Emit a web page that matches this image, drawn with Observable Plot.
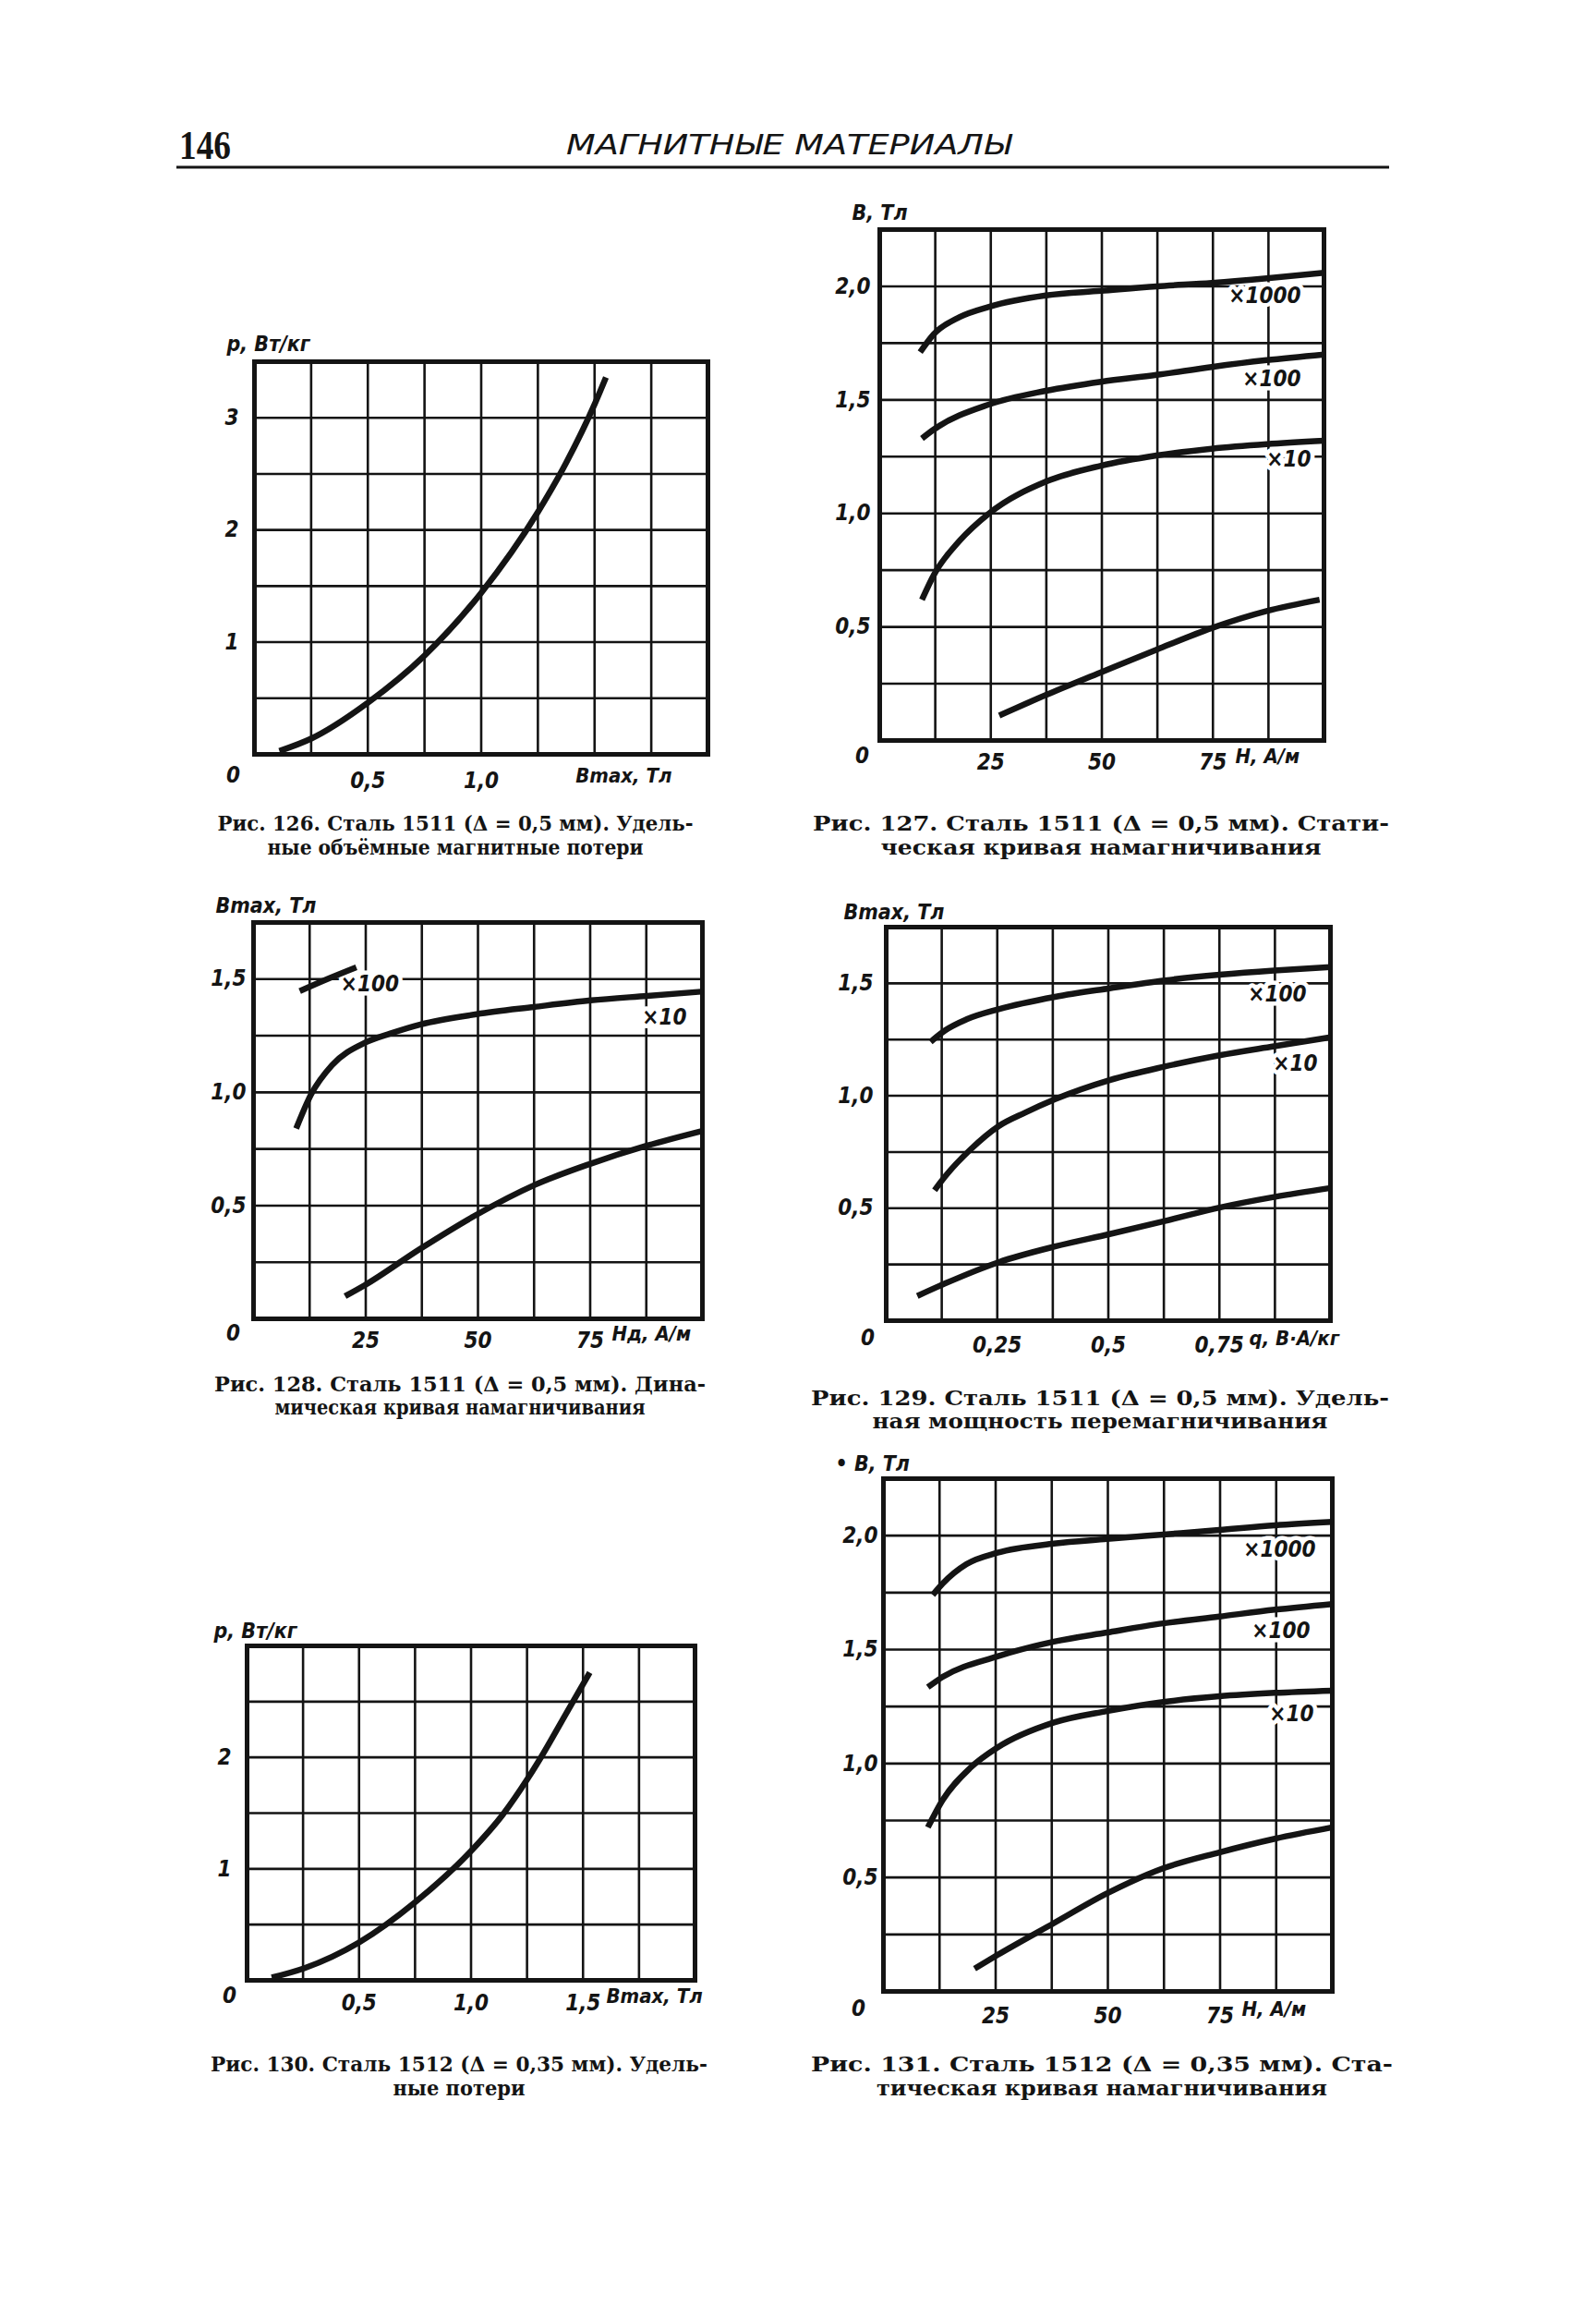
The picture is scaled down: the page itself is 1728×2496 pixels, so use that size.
<!DOCTYPE html>
<html><head><meta charset="utf-8">
<script src="https://cdn.jsdelivr.net/npm/d3@7"></script>
<script src="https://cdn.jsdelivr.net/npm/@observablehq/plot@0.6"></script>
<style>
html,body{margin:0;padding:0;background:#fff;}
#page{position:relative;width:1728px;height:2496px;background:#fff;overflow:hidden;}
#page svg.plotsvg{position:absolute;}
#overlay{position:absolute;left:0;top:0;}
</style></head>
<body><div id="page"><svg id="overlay" width="1728" height="2496"></svg></div>
<script>
// ---------- Рис. 126: p(Bmax), сталь 1511 ----------
const B126 = [0.11, 0.25, 0.5, 0.75, 1.0, 1.25, 1.375, 1.5, 1.55];
const p126 = [0.03, 0.14, 0.46, 0.88, 1.44, 2.16, 2.6, 3.12, 3.36];
const xTicks126 = [0.5, 1.0], xTickLabels126 = ["0,5", "1,0"];
const yTicks126 = [1, 2, 3], yTickLabels126 = ["1", "2", "3"];
const xGrid126 = [0.25, 0.5, 0.75, 1.0, 1.25, 1.5, 1.75];
const yGrid126 = [0.5, 1, 1.5, 2, 2.5, 3];

// ---------- Рис. 127: B(H) static, сталь 1511 ----------
const H127_1000 = [9.1, 12.2, 18, 24.6, 37.4, 49.8, 62.3, 74.7, 87.1, 100];
const B127_1000 = [1.71, 1.79, 1.865, 1.91, 1.96, 1.98, 2.0, 2.015, 2.035, 2.06];
const H127_100 = [9.5, 12.2, 24.6, 37.4, 49.8, 62.3, 74.7, 87.1, 100];
const B127_100 = [1.33, 1.37, 1.48, 1.54, 1.58, 1.61, 1.645, 1.675, 1.70];
const H127_10 = [9.5, 12.2, 18, 24.6, 37.4, 49.8, 62.3, 74.7, 87.1, 100];
const B127_10 = [0.62, 0.73, 0.88, 1.0, 1.14, 1.21, 1.255, 1.285, 1.305, 1.32];
const H127_1 = [26.9, 37.4, 49.8, 62.3, 74.7, 87.1, 99];
const B127_1 = [0.11, 0.20, 0.30, 0.40, 0.495, 0.57, 0.62];
const xTicks127 = [25, 50, 75], xTickLabels127 = ["25", "50", "75"];
const yTicks127 = [0.5, 1.0, 1.5, 2.0], yTickLabels127 = ["0,5", "1,0", "1,5", "2,0"];
const xGrid127 = [12.5, 25, 37.5, 50, 62.5, 75, 87.5];
const yGrid127 = [0.25, 0.5, 0.75, 1.0, 1.25, 1.5, 1.75, 2.0];

// ---------- Рис. 128: Bmax(Hд) dynamic, сталь 1511 ----------
const H128_10 = [9.5, 12.8, 17.5, 24.9, 30.5, 37.2, 49.7, 62.5, 75.1, 87.7, 100];
const B128_10 = [0.84, 0.99, 1.12, 1.22, 1.26, 1.30, 1.345, 1.377, 1.406, 1.426, 1.445];
const H128_100 = [10.3, 16.8, 22.9];
const B128_100 = [1.447, 1.503, 1.552];
const H128_1 = [20.4, 24.9, 37.2, 49.7, 62.5, 75.1, 87.7, 100];
const B128_1 = [0.10, 0.15, 0.31, 0.46, 0.59, 0.685, 0.765, 0.83];
const xTicks128 = [25, 50, 75], xTickLabels128 = ["25", "50", "75"];
const yTicks128 = [0.5, 1.0, 1.5], yTickLabels128 = ["0,5", "1,0", "1,5"];
const xGrid128 = [12.5, 25, 37.5, 50, 62.5, 75, 87.5];
const yGrid128 = [0.25, 0.5, 0.75, 1.0, 1.25, 1.5];

// ---------- Рис. 129: Bmax(q), сталь 1511 ----------
const q129_100 = [0.10, 0.132, 0.181, 0.253, 0.38, 0.503, 0.627, 0.75, 0.873, 1.0];
const B129_100 = [1.24, 1.29, 1.34, 1.385, 1.44, 1.478, 1.513, 1.538, 1.557, 1.572];
const q129_10 = [0.109, 0.132, 0.189, 0.253, 0.3125, 0.38, 0.503, 0.627, 0.75, 0.873, 1.0];
const B129_10 = [0.58, 0.64, 0.76, 0.865, 0.925, 0.985, 1.07, 1.13, 1.18, 1.22, 1.26];
const q129_1 = [0.07, 0.132, 0.253, 0.38, 0.503, 0.627, 0.75, 0.873, 1.0];
const B129_1 = [0.11, 0.165, 0.26, 0.33, 0.385, 0.443, 0.503, 0.55, 0.59];
const xTicks129 = [0.25, 0.5, 0.75], xTickLabels129 = ["0,25", "0,5", "0,75"];
const yTicks129 = [0.5, 1.0, 1.5], yTickLabels129 = ["0,5", "1,0", "1,5"];
const xGrid129 = [0.125, 0.25, 0.375, 0.5, 0.625, 0.75, 0.875];
const yGrid129 = [0.25, 0.5, 0.75, 1.0, 1.25, 1.5];

// ---------- Рис. 130: p(Bmax), сталь 1512 ----------
const B130 = [0.11, 0.257, 0.5, 0.75, 1.0, 1.143, 1.25, 1.30, 1.435, 1.53];
const p130 = [0.025, 0.11, 0.34, 0.70, 1.16, 1.49, 1.80, 1.96, 2.43, 2.76];
const xTicks130 = [0.5, 1.0, 1.5], xTickLabels130 = ["0,5", "1,0", "1,5"];
const yTicks130 = [1, 2], yTickLabels130 = ["1", "2"];
const xGrid130 = [0.25, 0.5, 0.75, 1.0, 1.25, 1.5, 1.75];
const yGrid130 = [0.5, 1, 1.5, 2, 2.5];

// ---------- Рис. 131: B(H) static, сталь 1512 ----------
const H131_1000 = [11, 13.2, 18.5, 25.4, 38, 49.8, 62.3, 74.8, 87.2, 100];
const B131_1000 = [1.74, 1.79, 1.875, 1.925, 1.965, 1.985, 2.005, 2.025, 2.045, 2.06];
const H131_100 = [9.9, 13.2, 25.4, 38, 49.8, 62.3, 74.8, 87.2, 100];
const B131_100 = [1.335, 1.38, 1.47, 1.535, 1.575, 1.615, 1.645, 1.675, 1.70];
const H131_10 = [9.9, 13.2, 19.3, 25.4, 38, 49.8, 62.3, 74.8, 87.2, 100];
const B131_10 = [0.72, 0.84, 0.98, 1.07, 1.18, 1.23, 1.27, 1.295, 1.31, 1.32];
const H131_1 = [20.3, 25.4, 38, 49.8, 62.3, 74.8, 87.2, 100];
const B131_1 = [0.10, 0.16, 0.30, 0.43, 0.54, 0.61, 0.67, 0.72];
const xTicks131 = [25, 50, 75], xTickLabels131 = ["25", "50", "75"];
const yTicks131 = [0.5, 1.0, 1.5, 2.0], yTickLabels131 = ["0,5", "1,0", "1,5", "2,0"];
const xGrid131 = [12.5, 25, 37.5, 50, 62.5, 75, 87.5];
const yGrid131 = [0.25, 0.5, 0.75, 1.0, 1.25, 1.5, 1.75, 2.0];

// ---------- texts ----------
const pageNumber = "146";
const runningHead = "МАГНИТНЫЕ МАТЕРИАЛЫ";
const captions = {
  126: ["Рис. 126. Сталь 1511 (Δ = 0,5 мм). Удель-", "ные объёмные магнитные потери"],
  127: ["Рис. 127. Сталь 1511 (Δ = 0,5 мм). Стати-", "ческая кривая намагничивания"],
  128: ["Рис. 128. Сталь 1511 (Δ = 0,5 мм). Дина-", "мическая кривая намагничивания"],
  129: ["Рис. 129. Сталь 1511 (Δ = 0,5 мм). Удель-", "ная мощность перемагничивания"],
  130: ["Рис. 130. Сталь 1512 (Δ = 0,35 мм). Удель-", "ные потери"],
  131: ["Рис. 131. Сталь 1512 (Δ = 0,35 мм). Ста-", "тическая кривая намагничивания"]
};

// ---------- drawing ----------
const INK = "#141414";
const TICKFONT = "'DejaVu Sans Condensed','DejaVu Sans',sans-serif";
const M = {l: 90, r: 40, t: 60, b: 60};
const rows = (xs, ys) => xs.map((x, i) => ({x, y: ys[i]}));

function chart(c) {
  const [L, T, R, B] = c.frame;
  const w = R - L + M.l + M.r, h = B - T + M.t + M.b;
  const series = c.series.map(([xs, ys]) => rows(xs, ys));
  const marks = [
    Plot.ruleX(c.xGrid, {stroke: INK, strokeWidth: 2.6}),
    Plot.ruleY(c.yGrid, {stroke: INK, strokeWidth: 2.6}),
    ...c.labels.map(lb => {
      const s = series[lb.s];
      return Plot.text([s[s.length - 1]], {
        x: "x", y: "y", text: () => lb.text, dx: lb.dx, dy: lb.dy,
        textAnchor: lb.anchor, fill: INK, stroke: "white", strokeWidth: 9,
        paintOrder: "stroke", fontSize: 24
      });
    }),
    Plot.frame({stroke: INK, strokeWidth: 5}),
    ...series.map(s => Plot.line(s, {x: "x", y: "y", stroke: INK, strokeWidth: 6.5, curve: "monotone-x", strokeLinecap: "butt"})),
    Plot.text([c.yTitle], {frameAnchor: "top-left", textAnchor: "start", dx: c.yTitleD[0], dy: c.yTitleD[1], fill: INK, fontSize: 23}),
    Plot.text([c.xTitle], {frameAnchor: "bottom-right", textAnchor: c.xTitleAnchor, dx: c.xTitleD[0], dy: c.xTitleD[1], fill: INK, fontSize: 22}),
    Plot.text(["0"], {frameAnchor: "bottom-left", textAnchor: "middle", dx: c.zeroD[0], dy: c.zeroD[1], fill: INK, fontSize: 24})
  ];
  const svg = Plot.plot({
    width: w, height: h,
    marginLeft: M.l, marginRight: M.r, marginTop: M.t, marginBottom: M.b,
    style: {fontFamily: TICKFONT, fontSize: "24px", fontStyle: "italic", fontWeight: "bold", color: INK, background: "transparent", overflow: "visible"},
    x: {domain: c.xDomain, ticks: c.xTicks, tickFormat: d => c.xTickLabels[c.xTicks.indexOf(d)], tickSize: 0, tickPadding: c.xPad, label: null},
    y: {domain: c.yDomain, ticks: c.yTicks, tickFormat: d => c.yTickLabels[c.yTicks.indexOf(d)], tickSize: 0, tickPadding: c.yPad, label: null},
    marks
  });
  svg.classList.add("plotsvg");
  svg.style.left = (L - M.l) + "px";
  svg.style.top = (T - M.t) + "px";
  svg.style.maxWidth = "none";
  document.getElementById("page").appendChild(svg);
}

chart({frame: [275, 391, 766, 816], xDomain: [0, 2], yDomain: [0, 3.5],
  xGrid: xGrid126, yGrid: yGrid126, xTicks: xTicks126, xTickLabels: xTickLabels126,
  yTicks: yTicks126, yTickLabels: yTickLabels126, xPad: 19, yPad: 17,
  series: [[B126, p126]], labels: [],
  yTitle: "p, Вт/кг", yTitleD: [-30, -28], xTitle: "Bmax, Тл", xTitleAnchor: "end", xTitleD: [-39, 30], zeroD: [-23, 30]});

chart({frame: [952, 248, 1433, 801], xDomain: [0, 100], yDomain: [0, 2.25],
  xGrid: xGrid127, yGrid: yGrid127, xTicks: xTicks127, xTickLabels: xTickLabels127,
  yTicks: yTicks127, yTickLabels: yTickLabels127, xPad: 14, yPad: 10,
  series: [[H127_1000, B127_1000], [H127_100, B127_100], [H127_10, B127_10], [H127_1, B127_1]],
  labels: [{s: 0, text: "×1000", dx: -25, dy: 25, anchor: "end"},
           {s: 1, text: "×100", dx: -25, dy: 27, anchor: "end"},
           {s: 2, text: "×10", dx: -14, dy: 20, anchor: "end"}],
  yTitle: "B, Тл", yTitleD: [-30, -27], xTitle: "H, А/м", xTitleAnchor: "start", xTitleD: [-96, 24], zeroD: [-19, 24]});

chart({frame: [274, 998, 760, 1427], xDomain: [0, 100], yDomain: [0, 1.75],
  xGrid: xGrid128, yGrid: yGrid128, xTicks: xTicks128, xTickLabels: xTickLabels128,
  yTicks: yTicks128, yTickLabels: yTickLabels128, xPad: 14, yPad: 8,
  series: [[H128_10, B128_10], [H128_100, B128_100], [H128_1, B128_1]],
  labels: [{s: 1, text: "×100", dx: -17, dy: 18, anchor: "start"},
           {s: 0, text: "×10", dx: -17, dy: 28, anchor: "end"}],
  yTitle: "Bmax, Тл", yTitleD: [-41, -27], xTitle: "Hд, А/м", xTitleAnchor: "start", xTitleD: [-98, 23], zeroD: [-22, 23]});

chart({frame: [959, 1003, 1440, 1429], xDomain: [0, 1], yDomain: [0, 1.75],
  xGrid: xGrid129, yGrid: yGrid129, xTicks: xTicks129, xTickLabels: xTickLabels129,
  yTicks: yTicks129, yTickLabels: yTickLabels129, xPad: 17, yPad: 14,
  series: [[q129_100, B129_100], [q129_10, B129_10], [q129_1, B129_1]],
  labels: [{s: 0, text: "×100", dx: -26, dy: 29, anchor: "end"},
           {s: 1, text: "×10", dx: -14, dy: 29, anchor: "end"}],
  yTitle: "Bmax, Тл", yTitleD: [-46, -25], xTitle: "q, В·А/кг", xTitleAnchor: "start", xTitleD: [-88, 26], zeroD: [-20, 26]});

chart({frame: [267, 1781, 752, 2143], xDomain: [0, 2], yDomain: [0, 3],
  xGrid: xGrid130, yGrid: yGrid130, xTicks: xTicks130, xTickLabels: xTickLabels130,
  yTicks: yTicks130, yTickLabels: yTickLabels130, xPad: 15, yPad: 17,
  series: [[B130, p130]], labels: [],
  yTitle: "p, Вт/кг", yTitleD: [-36, -25], xTitle: "Bmax, Тл", xTitleAnchor: "start", xTitleD: [-96, 24], zeroD: [-19, 24]});

chart({frame: [956, 1600, 1442, 2155], xDomain: [0, 100], yDomain: [0, 2.25],
  xGrid: xGrid131, yGrid: yGrid131, xTicks: xTicks131, xTickLabels: xTickLabels131,
  yTicks: yTicks131, yTickLabels: yTickLabels131, xPad: 17, yPad: 6,
  series: [[H131_1000, B131_1000], [H131_100, B131_100], [H131_10, B131_10], [H131_1, B131_1]],
  labels: [{s: 0, text: "×1000", dx: -18, dy: 30, anchor: "end"},
           {s: 1, text: "×100", dx: -24, dy: 29, anchor: "end"},
           {s: 2, text: "×10", dx: -20, dy: 25, anchor: "end"}],
  yTitle: "• B, Тл", yTitleD: [-52, -25], xTitle: "H, А/м", xTitleAnchor: "start", xTitleD: [-98, 26], zeroD: [-27, 26]});

// ---------- page texts ----------
const ov = d3.select("#overlay");
ov.append("text").attr("x", 194).attr("y", 172).attr("textLength", 56).attr("lengthAdjust", "spacingAndGlyphs")
  .style("font", "bold 44px 'Liberation Serif', serif").attr("fill", INK).text(pageNumber);
ov.append("text").attr("x", 613).attr("y", 167).attr("textLength", 482).attr("lengthAdjust", "spacingAndGlyphs")
  .style("font", "italic 30px 'Liberation Sans Narrow','DejaVu Sans Condensed','Liberation Sans',sans-serif").attr("fill", INK).text(runningHead);
ov.append("line").attr("x1", 191).attr("x2", 1504).attr("y1", 181).attr("y2", 181).attr("stroke", INK).attr("stroke-width", 3);

const capLayout = [
  {id: 126, cx: 493, y: [899, 925], len: [515, 407]},
  {id: 127, cx: 1192, y: [899, 925], len: [624, 477]},
  {id: 128, cx: 498, y: [1506, 1531], len: [532, 401]},
  {id: 129, cx: 1191, y: [1521, 1546], len: [626, 493]},
  {id: 130, cx: 497, y: [2242, 2268], len: [538, 143]},
  {id: 131, cx: 1193, y: [2242, 2268], len: [630, 488]}
];
capLayout.forEach(c => {
  captions[c.id].forEach((line, i) => {
    ov.append("text").attr("x", c.cx).attr("y", c.y[i]).attr("text-anchor", "middle")
      .attr("textLength", c.len[i]).attr("lengthAdjust", "spacingAndGlyphs")
      .style("font", "bold 22px 'DejaVu Serif Condensed','DejaVu Serif', serif").attr("fill", INK).text(line);
  });
});
</script>
</body></html>
